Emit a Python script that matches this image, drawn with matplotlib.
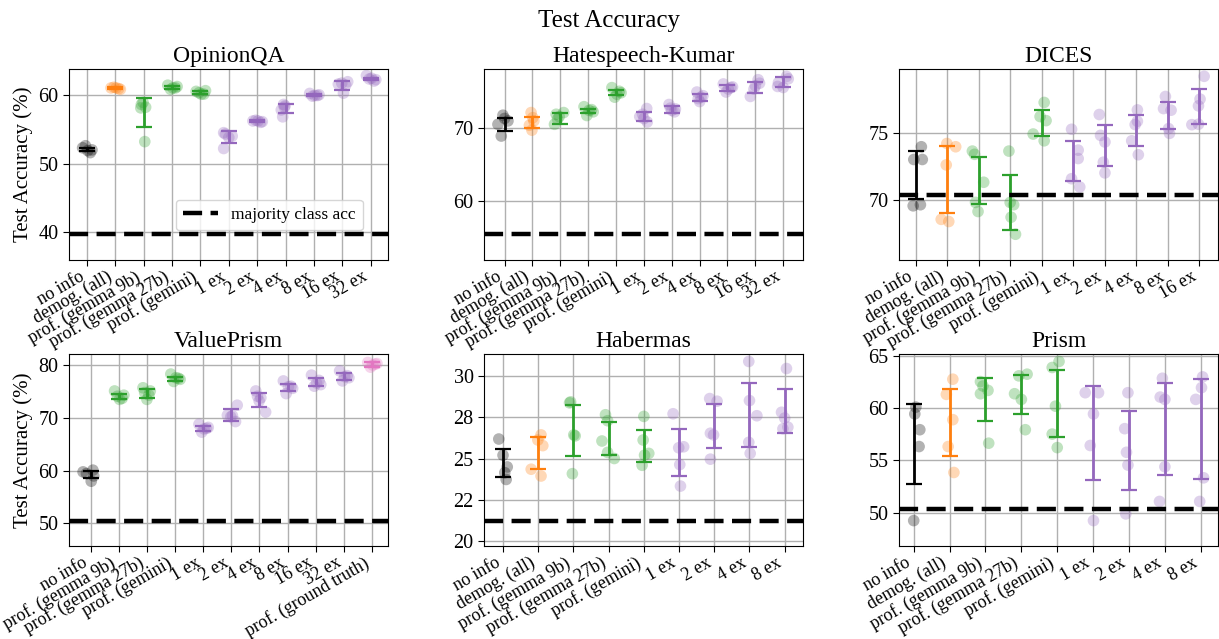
import matplotlib
matplotlib.use("Agg")
import matplotlib.pyplot as plt

plt.rcParams['font.family'] = ['Liberation Serif', 'DejaVu Serif']
plt.rcParams['mathtext.fontset'] = 'stix'

# ---------------- data ----------------
cats_a = ["no info", "demog. (all)", "prof. (gemma 9b)", "prof. (gemma 27b)", "prof. (gemini)",
          "1 ex", "2 ex", "4 ex", "8 ex", "16 ex", "32 ex"]
cats_dices = ["no info", "demog. (all)", "prof. (gemma 9b)", "prof. (gemma 27b)", "prof. (gemini)",
              "1 ex", "2 ex", "4 ex", "8 ex", "16 ex"]
cats_vp = ["no info", "prof. (gemma 9b)", "prof. (gemma 27b)", "prof. (gemini)",
           "1 ex", "2 ex", "4 ex", "8 ex", "16 ex", "32 ex", "prof. (ground truth)"]
cats_b = ["no info", "demog. (all)", "prof. (gemma 9b)", "prof. (gemma 27b)", "prof. (gemini)",
          "1 ex", "2 ex", "4 ex", "8 ex"]

# OpinionQA
oqa_pts = [[52.3, 51.6, 52.6, 52.0, 51.9], [61.0, 60.9, 61.1, 60.8, 61.0],
           [58.9, 58.6, 58.2, 53.2, 58.1], [61.4, 61.0, 60.8, 61.2, 61.0],
           [60.5, 60.1, 60.3, 60.6, 60.1], [54.5, 54.0, 52.2, 53.8, 54.3],
           [56.2, 56.0, 56.3, 56.1, 56.2], [58.6, 57.8, 56.8, 58.4, 58.2],
           [60.2, 59.9, 59.8, 60.0, 59.9], [61.7, 61.9, 60.24, 61.56, 61.4],
           [62.8, 62.0, 62.3, 62.2, 62.4]]
oqa_mean = [52.07, 60.95, 57.42, 61.07, 60.34, 53.9, 56.16, 58.02, 59.95, 61.38, 62.29]
oqa_err = [0.27, 0.15, 2.14, 0.27, 0.2, 0.85, 0.15, 0.7, 0.15, 0.65, 0.2]
oqa_major = 39.76

# Hatespeech-Kumar
hs_pts = [[71.74, 70.96, 70.5, 68.9, 71.3], [72.1, 70.96, 70.37, 69.7, 71.4],
          [71.87, 72.1, 70.5, 71.2, 71.55], [72.9, 72.5, 71.7, 72.2, 72.4],
          [75.5, 75.0, 74.2, 74.8, 74.6], [72.65, 71.55, 70.82, 71.87, 71.28],
          [73.2, 72.6, 72.2, 72.7, 72.4], [74.9, 74.4, 73.6, 74.0, 74.2],
          [76.0, 75.5, 74.9, 75.6, 75.3], [76.58, 76.1, 74.3, 75.3, 75.75],
          [77.03, 76.2, 75.52, 76.7, 75.66]]
hs_mean = [70.5, 70.73, 71.3, 72.33, 74.84, 71.57, 72.55, 74.18, 75.44, 75.53, 76.25]
hs_err = [0.87, 0.78, 0.7, 0.3, 0.37, 0.62, 0.45, 0.48, 0.46, 0.78, 0.73]
hs_major = 55.53

# DICES
dc_pts = [[73.96, 73.02, 73.02, 69.6, 69.68], [74.2, 73.96, 72.62, 68.6, 68.44],
          [73.64, 73.4, 71.34, 69.85, 69.18], [73.64, 69.85, 69.68, 68.76, 67.5],
          [77.23, 76.19, 75.89, 74.9, 74.4], [75.25, 73.71, 73.09, 71.6, 70.99],
          [76.34, 74.8, 74.31, 72.82, 72.03], [76.68, 75.84, 74.4, 75.6, 73.37],
          [77.67, 76.78, 76.66, 75.3, 74.95], [79.16, 77.48, 76.98, 75.59, 75.62]]
dc_mean = [71.87, 71.55, 71.46, 69.86, 75.72, 72.9, 74.06, 75.17, 76.26, 76.95]
dc_err = [1.77, 2.45, 1.76, 2.04, 0.97, 1.49, 1.49, 1.14, 0.99, 1.29]
dc_major = 70.4

# ValuePrism
vp_pts = [[59.77, 60.1, 58.0, 59.0, 59.45], [75.1, 73.7, 74.1, 74.3, 73.5],
          [75.7, 75.1, 73.5, 74.8, 74.3], [78.3, 77.5, 76.9, 77.3, 77.6],
          [68.8, 68.0, 67.3, 68.2, 67.9], [72.4, 70.2, 69.3, 70.5, 70.4],
          [75.1, 74.1, 73.2, 71.1, 73.8], [77.0, 76.0, 74.6, 75.6, 75.9],
          [78.1, 77.1, 76.0, 76.3, 76.6], [78.9, 78.0, 77.0, 77.6, 77.8],
          [80.5, 80.2, 79.6, 80.3, 80.0]]
vp_mean = [59.26, 74.03, 74.67, 77.4, 68.03, 70.55, 73.43, 75.82, 76.81, 77.86, 80.13]
vp_err = [0.64, 0.42, 0.86, 0.38, 0.48, 1.08, 1.28, 0.67, 0.77, 0.67, 0.4]
vp_major = 50.45

# Habermas
hb_pts = [[26.18, 25.2, 24.49, 24.14, 23.73], [26.43, 26.12, 25.78, 24.35, 23.94],
          [28.43, 28.37, 26.43, 26.37, 24.08], [27.65, 27.29, 26.06, 25.37, 25.0],
          [27.55, 26.12, 25.31, 24.59, 25.2], [27.71, 25.65, 25.71, 24.63, 23.33],
          [28.63, 28.47, 26.53, 26.43, 24.96], [30.88, 28.51, 27.59, 25.98, 25.31],
          [30.45, 27.8, 27.45, 26.9, 26.8]]
hb_mean = [24.73, 25.32, 26.7, 26.22, 25.76, 25.38, 26.96, 27.63, 27.86]
hb_err = [0.85, 0.97, 1.56, 1.02, 0.97, 1.42, 1.34, 1.92, 1.33]
hb_major = 21.22

# Prism
pr_pts = [[60.08, 59.43, 57.92, 56.31, 49.23], [62.75, 61.3, 58.88, 56.31, 53.83],
          [62.52, 62.1, 61.68, 61.36, 56.63], [63.07, 63.23, 61.36, 60.82, 57.92],
          [64.45, 63.87, 60.17, 57.5, 56.21], [61.46, 61.46, 59.43, 56.41, 49.23],
          [61.46, 58.02, 55.76, 54.54, 49.87], [62.84, 61.04, 60.82, 54.38, 51.06],
          [62.97, 61.94, 60.82, 53.32, 51.06]]
pr_mean = [56.58, 58.61, 60.81, 61.3, 60.4, 57.6, 55.94, 57.98, 58.0]
pr_err = [3.81, 3.17, 2.09, 1.87, 3.22, 4.5, 3.75, 4.41, 4.75]
pr_major = 50.32

# horizontal jitter of the seed points
J = [-0.15, 0.12, -0.05, 0.18, 0.03]
oqa_jit = [J, J, [-0.02, -0.08, 0.07, 0.04, -0.1], J, J, [-0.18, 0.12, -0.18, 0.0, -0.12],
           J, [-0.07, -0.15, -0.1, -0.02, -0.04], J, [-0.02, 0.19, 0.04, -0.14, 0.12], J]
hs_jit = [[-0.06, 0.12, -0.24, -0.12, 0.0], [-0.05, 0.05, -0.11, -0.02, 0.01],
          [-0.15, 0.12, -0.21, -0.1, -0.04], J, J, [0.1, -0.15, 0.12, -0.05, 0.0],
          [-0.1, 0.13, 0.1, -0.05, 0.0], [-0.1, 0.12, 0.0, -0.05, 0.05], J,
          [0.1, 0.15, -0.18, -0.05, 0.0], [0.12, -0.17, 0.0, 0.18, -0.2]]
dc_jit = [[0.18, -0.06, 0.21, -0.08, 0.15], [-0.01, 0.27, -0.03, -0.19, 0.05],
          [-0.2, -0.13, 0.16, -0.1, -0.02], [-0.04, 0.0, 0.11, 0.03, 0.17],
          [0.08, -0.05, 0.14, -0.27, 0.08], [-0.05, 0.16, 0.16, -0.05, 0.21],
          [-0.17, -0.13, 0.01, -0.04, 0.01], [0.04, 0.04, -0.14, -0.03, 0.07],
          [-0.07, -0.13, 0.11, 0.03, 0.06], [0.16, 0.03, -0.02, -0.23, -0.02]]
vp_jit = [[-0.27, 0.08, 0.02, 0.11, -0.15], J, [-0.14, 0.12, 0.0, -0.08, 0.07], J, J,
          [0.21, -0.02, 0.15, -0.14, 0.04], [-0.13, -0.07, -0.01, 0.22, 0.05], J, J, J, J]
hb_jit = [[-0.12, 0.0, 0.12, 0.05, 0.09], [0.08, -0.01, 0.13, -0.2, 0.08],
          [-0.08, -0.11, 0.01, 0.05, -0.03], [-0.09, -0.03, -0.19, -0.03, 0.16],
          [0.0, -0.02, 0.14, -0.05, 0.02], [-0.17, -0.01, 0.13, 0.02, 0.04],
          [-0.13, 0.08, -0.11, -0.02, -0.11], [-0.02, 0.0, 0.21, -0.02, 0.02],
          [0.05, -0.09, 0.0, 0.09, -0.05]]
pr_jit = [[0.06, 0.03, 0.17, 0.15, 0.0], [0.09, -0.09, 0.09, -0.04, 0.12],
          [-0.14, -0.07, 0.07, -0.14, 0.09], [-0.07, 0.16, -0.19, 0.0, 0.11],
          [0.05, -0.14, -0.05, -0.14, 0.0], [-0.22, 0.15, 0.01, -0.08, 0.01],
          [-0.03, -0.12, -0.07, -0.03, -0.09], [-0.07, -0.13, 0.0, 0.0, -0.15],
          [0.05, 0.02, -0.14, 0.08, -0.03]]

panels = [
    dict(title="OpinionQA", cats=cats_a, pts=oqa_pts, mean=oqa_mean, err=oqa_err, major=oqa_major,
         jit=oqa_jit, ylim=(36.0, 63.75), xlim=(-0.63, 10.61), yticks=[40, 50, 60], ylab=None),
    dict(title="Hatespeech-Kumar", cats=cats_a, pts=hs_pts, mean=hs_mean, err=hs_err, major=hs_major,
         jit=hs_jit, ylim=(52.0, 78.04), xlim=(-0.74, 10.71), yticks=[60, 70], ylab=None),
    dict(title="DICES", cats=cats_dices, pts=dc_pts, mean=dc_mean, err=dc_err, major=dc_major,
         jit=dc_jit, ylim=(65.6, 79.7), xlim=(-0.53, 9.6), yticks=[70, 75], ylab=None),
    dict(title="ValuePrism", cats=cats_vp, pts=vp_pts, mean=vp_mean, err=vp_err, major=vp_major,
         jit=vp_jit, ylim=(45.73, 82.1), xlim=(-0.77, 10.57), yticks=[50, 60, 70, 80], ylab=None),
    dict(title="Habermas", cats=cats_b, pts=hb_pts, mean=hb_mean, err=hb_err, major=hb_major,
         jit=hb_jit, ylim=(19.7, 31.33), xlim=(-0.54, 8.52), yticks=[20, 22.5, 25, 27.5, 30],
         ylab=["20", "22", "25", "28", "30"]),
    dict(title="Prism", cats=cats_b, pts=pr_pts, mean=pr_mean, err=pr_err, major=pr_major,
         jit=pr_jit, ylim=(46.8, 65.16), xlim=(-0.41, 8.48), yticks=[50, 55, 60, 65], ylab=None),
]


def cat_color(c):
    if c == "no info":
        return "black"
    if c.startswith("demog"):
        return "#ff7f0e"
    if "ground truth" in c:
        return "#e377c2"
    if c.startswith("prof"):
        return "#2ca02c"
    return "#9467bd"


W, H = 1219, 639
fig = plt.figure(figsize=(W / 100, H / 100), dpi=100)
lefts = [69, 484, 899]
aw = 319
rows = [(69, 260), (354, 546)]

for i, p in enumerate(panels):
    r, c = divmod(i, 3)
    top, bot = rows[r]
    ax = fig.add_axes([lefts[c] / W, 1 - bot / H, aw / W, (bot - top) / H])
    ax.grid(True, color="#b0b0b0", linewidth=1.0)
    ax.set_axisbelow(True)
    for k, cat in enumerate(p["cats"]):
        col = cat_color(cat)
        xs = [k + o for o in p["jit"][k]]
        ax.scatter(xs, p["pts"][k], s=70, color=col, alpha=0.3, edgecolors="none", zorder=2)
        ax.errorbar([k], [p["mean"][k]], yerr=[p["err"][k]], color=col, capsize=6,
                    elinewidth=2, capthick=1.6, fmt="none", zorder=3)
    ax.axhline(p["major"], color="black", linewidth=3.2, dashes=(4.3, 1.9),
               label="majority class acc", zorder=4)
    ax.set_xlim(*p["xlim"])
    ax.set_ylim(*p["ylim"])
    ax.set_xticks(range(len(p["cats"])))
    ax.set_xticklabels(p["cats"], rotation=30, ha="right", fontsize=13)
    ax.set_yticks(p["yticks"])
    if p["ylab"] is not None:
        ax.set_yticklabels(p["ylab"])
    ax.tick_params(axis="y", labelsize=14.5, length=4)
    ax.tick_params(axis="x", length=4, pad=2)
    ax.set_title(p["title"], fontsize=17, pad=5)
    if c == 0:
        ax.set_ylabel("Test Accuracy (%)", fontsize=15)
    if i == 0:
        ax.legend(loc="lower left", bbox_to_anchor=(0.335, 0.157), fontsize=12.5,
                  handlelength=2.0, framealpha=0.8, borderaxespad=0)

fig.suptitle("Test Accuracy", fontsize=18, y=0.985)
fig.savefig("out.png", dpi=100)
